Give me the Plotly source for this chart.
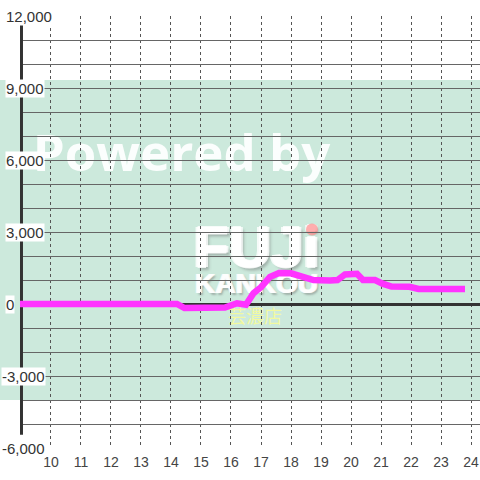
import plotly.graph_objects as go

# ---- data ----
hours = [8.9, 14.2, 14.45, 14.8, 15.3, 15.8, 16.2, 16.5, 16.75, 17.0, 17.3, 17.6,
         18.0, 18.4, 18.75, 19.3, 19.55, 19.8, 20.2, 20.4, 20.8, 21.05, 21.35,
         21.95, 22.25, 23.8]
values = [0, 0, -170, -180, -200, -150, 30, -30, 450, 700, 1130, 1290,
          1280, 1130, 1000, 980, 1000, 1230, 1260, 1000, 1000, 850, 730,
          720, 630, 630]
x_ticks = list(range(10, 25))
y_ticks = [12000, 9000, 6000, 3000, 0, -3000, -6000]
y_tick_labels = ["12,000", "9,000", "6,000", "3,000", "0", "-3,000", "-6,000"]
band_range = [-4000, 9333]

fig = go.Figure()
fig.add_trace(go.Scatter(
    x=hours, y=values, mode="lines",
    line=dict(color="#ff33ff", width=6.5),
    hoverinfo="skip", showlegend=False,
))

w = "rgba(255,255,255,0.9)"
logo_shadow = (f"2px 0 0 {w}, -2px 0 0 {w}, 0 1px 0 {w}, 0 -1px 0 {w}, "
               "3px 3px 3px rgba(110,110,110,0.5)")
small_shadow = (f"1px 0 0 {w}, -1px 0 0 {w}, "
                "2px 2px 2px rgba(110,110,110,0.5)")
shapes = [
    # green band
    dict(type="rect", xref="paper", yref="y", x0=-0.06, x1=1.0,
         y0=band_range[0], y1=band_range[1], fillcolor="#cce9dc",
         line=dict(width=0), layer="below"),
    # watermark texts (below gridlines)
    dict(type="rect", xref="x", yref="y", x0=11.9, x1=16.8, y0=5200, y1=7200,
         fillcolor="rgba(0,0,0,0)", line=dict(width=0), layer="below",
         label=dict(text="<b>Powered by</b>", textposition="middle center",
                    font=dict(family="Open Sans", size=51, color="rgba(255,255,255,0.92)"))),
    dict(type="rect", xref="x", yref="y", x0=14.8, x1=18.9, y0=1700, y1=3500,
         fillcolor="rgba(0,0,0,0)", line=dict(width=0), layer="below",
         label=dict(text="<b>FUJi</b>", textposition="middle center",
                    font=dict(family="Liberation Sans", size=58, weight="bold",
                              color=w, shadow=logo_shadow))),
    dict(type="rect", xref="x", yref="y", x0=14.8, x1=18.9, y0=550, y1=1450,
         fillcolor="rgba(0,0,0,0)", line=dict(width=0), layer="below",
         label=dict(text="<b>KANKOU</b>", textposition="middle center",
                    font=dict(family="Liberation Sans", size=28, weight="bold",
                              color=w, shadow=small_shadow))),
    dict(type="rect", xref="x", yref="y", x0=15.3, x1=18.3, y0=-900, y1=-300,
         fillcolor="rgba(0,0,0,0)", line=dict(width=0), layer="below",
         label=dict(text="芸濃店", textposition="middle center",
                    font=dict(family="Noto Sans CJK JP", size=18, color="rgba(255,255,140,0.75)"))),
    dict(type="circle", xref="x", yref="y", x0=18.5, x1=18.9, y0=2850, y1=3350,
         fillcolor="rgba(255,140,140,0.7)", line=dict(width=0), layer="below"),
    # thick y axis line
    dict(type="line", xref="x", yref="y", x0=9, x1=9, y0=-5450, y1=11650,
         line=dict(color="#333333", width=4), layer="between"),
]

annotations = []
for v, t in zip(y_ticks, y_tick_labels):
    annotations.append(dict(
        xref="paper", yref="y", x=0, y=v, text=t, showarrow=False,
        xanchor="left", yanchor="middle",
        xshift=-19 if v < 0 else -15,
        bgcolor="white", borderpad=0,
        font=dict(family="Liberation Sans", size=15, color="#333333"),
    ))

fig.update_layout(
    width=480, height=480,
    margin=dict(l=20, r=0, t=16, b=32),
    paper_bgcolor="white", plot_bgcolor="white",
    shapes=shapes, annotations=annotations,
    showlegend=False,
    xaxis=dict(
        range=[8.967, 24.3], tickvals=x_ticks, ticktext=[str(h) for h in x_ticks],
        showgrid=True, gridcolor="#555555", gridwidth=1, griddash="3px,3px",
        zeroline=False, showline=False, ticks="", ticklabelstandoff=4,
        tickfont=dict(family="Liberation Sans", size=14, color="#444444"),
        fixedrange=True,
    ),
    yaxis=dict(
        range=[-6000, 12000], tick0=0, dtick=1000,
        showgrid=True, gridcolor="#666666", gridwidth=1,
        zeroline=True, zerolinecolor="#333333", zerolinewidth=3,
        showticklabels=False, ticks="", showline=False,
        fixedrange=True,
    ),
)

fig.write_html(
    "out.html",
    config={"displayModeBar": False},
    post_script="document.body.style.margin='0';document.body.style.overflow='hidden';",
)
